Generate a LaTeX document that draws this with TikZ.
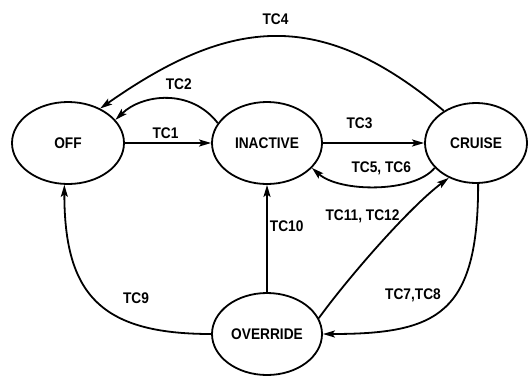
\documentclass[tikz,border=0pt]{standalone}
\usepackage{fontspec}
\setmainfont{Liberation Sans}[FakeStretch=0.89]
\usetikzlibrary{arrows.meta,shapes.geometric}
\begin{document}
\begin{tikzpicture}[x=1pt,y=-1pt,
  labelfont/.style={font=\bfseries\fontsize{15.4}{18}\selectfont},
  state/.style={draw, ellipse, line width=1.8pt, inner sep=0pt, labelfont},
  trans/.style={line width=1.8pt, -{Stealth[length=12pt,width=7pt,inset=2.5pt]}},
  lbl/.style={anchor=base, inner sep=0pt, labelfont}]
\useasboundingbox (0,0) rectangle (529,375);

% states
\node[state, minimum width=112pt, minimum height=82pt] (off)      at (68,143)  {OFF};
\node[state, minimum width=110pt, minimum height=82pt] (inactive) at (267,143) {INACTIVE};
\node[state, minimum width=102pt, minimum height=80pt] (cruise)   at (476,143) {CRUISE};
\node[state, minimum width=110pt, minimum height=82pt] (override) at (267,334) {OVERRIDE};

% transitions
\draw[trans] (off.east) -- (inactive.west);
\draw[trans] (inactive.158) .. controls +(-27,-35) and +(27,-26) .. (off.26);
\draw[trans] (cruise.135) .. controls +(-123,-103) and +(131,-92) .. (off.47);
\draw[trans] (inactive.east) -- (cruise.west);
\draw[trans] (cruise.211) .. controls +(-20,25) and +(28,25) .. (inactive.331);
\draw[trans] (override.17) .. controls +(29,-40) and +(-40,30) .. (cruise.232);
\draw[trans] (cruise.273) .. controls +(0,130) and +(115,0) .. (override.east);
\draw[trans] (override.north) -- (inactive.south);
\draw[trans] (override.west) .. controls +(-110,0) and +(0,110) .. (off.265);

% transition labels
\node[lbl] (l1)  at (165.5,138.3) {TC1};
\node[lbl] (l2)  at (178.7,89)    {TC2};
\node[lbl] (l4)  at (275.5,24)    {TC4};
\node[lbl] (l3)  at (359.5,128.3) {TC3};
\node[lbl] (l56) at (381.2,172.5) {TC5, TC6};
\node[lbl] (l10) at (286.7,231.7) {TC10};
\node[lbl] (l1112) at (362.5,220) {TC11, TC12};
\node[lbl] (l78) at (413,299.5)   {TC7,TC8};
\node[lbl] (l9)  at (136,303.3)   {TC9};
\end{tikzpicture}
\end{document}
